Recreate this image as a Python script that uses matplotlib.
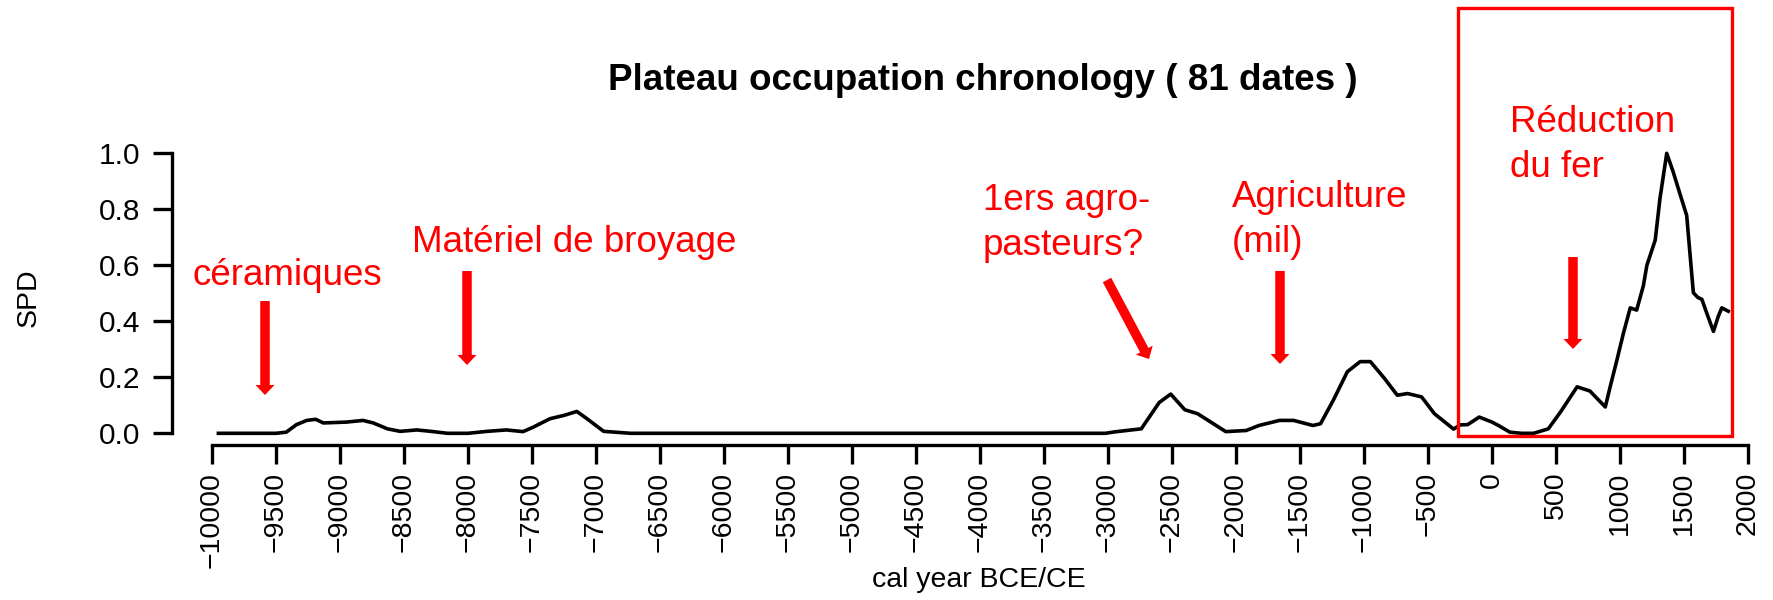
import numpy as np
import matplotlib
matplotlib.use("Agg")
import matplotlib.pyplot as plt
from matplotlib.patches import FancyArrow, Rectangle
from matplotlib.transforms import IdentityTransform

plt.rcParams['font.family'] = ['Liberation Sans', 'DejaVu Sans']

# ---- data ----
years = [-9950, -9500, -9420, -9340, -9260, -9190, -9130, -8950, -8820, -8740,
         -8630, -8530, -8400, -8290, -8160, -8000, -7850, -7700, -7570, -7490,
         -7360, -7250, -7150, -7070, -6940, -6730, -3020, -2950, -2740, -2600,
         -2510, -2400, -2300, -2080, -1920, -1820, -1660, -1550, -1400, -1340,
         -1240, -1130, -1030, -950, -840, -740, -660, -550, -450, -300,
         -250, -190, -100, 0, 50, 140, 230, 325, 440, 535,
         665, 765, 885, 923, 975, 1027, 1080, 1130, 1182, 1210,
         1275, 1312, 1365, 1415, 1465, 1521, 1573, 1606, 1640, 1677,
         1730, 1768, 1795, 1846]
spd = [0.0, 0.0, 0.004, 0.031, 0.046, 0.05, 0.037, 0.04, 0.046, 0.037,
       0.016, 0.007, 0.012, 0.007, 0.0, 0.0, 0.007, 0.012, 0.006, 0.022,
       0.052, 0.064, 0.078, 0.052, 0.007, 0.0, 0.0, 0.005, 0.016, 0.11,
       0.14, 0.084, 0.07, 0.006, 0.01, 0.028, 0.046, 0.046, 0.028, 0.034,
       0.118, 0.22, 0.256, 0.256, 0.196, 0.136, 0.142, 0.13, 0.07, 0.015,
       0.03, 0.031, 0.058, 0.04, 0.028, 0.004, 0.0, 0.0, 0.016, 0.076,
       0.166, 0.151, 0.094, 0.166, 0.26, 0.358, 0.448, 0.44, 0.526, 0.6,
       0.69, 0.838, 1.0, 0.934, 0.86, 0.778, 0.502, 0.486, 0.478, 0.43,
       0.364, 0.418, 0.448, 0.436]

x_ticks = list(range(-10000, 2001, 500))
x_tick_labels = [str(v).replace('-', '\u2212') for v in x_ticks]
y_ticks = [0.0, 0.2, 0.4, 0.6, 0.8, 1.0]
y_tick_labels = ['0.0', '0.2', '0.4', '0.6', '0.8', '1.0']

title = 'Plateau occupation chronology ( 81 dates )'
xlabel = 'cal year BCE/CE'
ylabel = 'SPD'

# annotations: (lines, left px, first baseline px)
annotations = [
    (['céramiques'], 193, 285),
    (['Matériel de broyage'], 412, 252),
    (['1ers agro-', 'pasteurs?'], 983, 210),
    (['Agriculture', '(mil)'], 1232, 207),
    (['Réduction', 'du fer'], 1510, 132),
]
# arrows: start (x, y) -> tip (x, y) in pixels from top-left
arrows = [
    ((265, 301), (265, 395)),
    ((467, 271), (467, 365)),
    ((1107, 280), (1149, 359)),
    ((1280, 271), (1280, 364)),
    ((1573, 257), (1573, 349)),
]

W, H = 1774, 600
fig = plt.figure(figsize=(W / 100, H / 100), dpi=100)

def fx(px):
    return px / W

def fy(py):
    return 1 - py / H

PX_PER_YEAR = 0.12805
left_px = 172
x_left = -10000 - (212 - left_px) / PX_PER_YEAR
x_right = 2000 + (W - 1748) / PX_PER_YEAR

ax = fig.add_axes([fx(left_px), fy(444.5), fx(W - left_px), (444.5 - 142.1) / H])
ax.plot(years, spd, color='black', lw=2.6, solid_joinstyle='round')
ax.set_xlim(x_left, x_right)
ax.set_ylim(-0.04, 1.04)
ax.patch.set_alpha(0)
for s in ['top', 'right']:
    ax.spines[s].set_visible(False)
ax.spines['left'].set_bounds(0, 1)
ax.spines['bottom'].set_bounds(-10000, 2000)
for s in ['left', 'bottom']:
    ax.spines[s].set_linewidth(2.4)
ax.set_xticks(x_ticks)
ax.set_xticklabels(x_tick_labels, rotation=90, va='top', ha='center')
ax.set_yticks(y_ticks)
ax.set_yticklabels(y_tick_labels)
ax.tick_params(axis='both', length=13.7, width=2.4, labelsize=20.5, direction='out')
ax.tick_params(axis='x', pad=6)
ax.tick_params(axis='y', pad=9, labelsize=21.5)

fig.text(fx(983), fy(90), title, ha='center', va='baseline',
         fontsize=26.5, fontweight='bold')
fig.text(fx(979), fy(580), xlabel, ha='center', va='center', fontsize=20.5)
fig.text(fx(29), fy(298), ylabel, ha='center', va='center', rotation=90, fontsize=20.5)

red = '#FF0000'
for lines, left, base in annotations:
    for i, line in enumerate(lines):
        fig.text(fx(left), fy(base + 45 * i), line, ha='left', va='baseline',
                 fontsize=26.5, color=red)

for (x0, y0), (x1, y1) in arrows:
    dx = x1 - x0
    dy = -(y1 - y0)
    arr = FancyArrow(x0, H - y0, dx, dy, width=9.5, head_width=19, head_length=10,
                     length_includes_head=True, color=red, lw=0,
                     transform=IdentityTransform())
    fig.add_artist(arr)

rect = Rectangle((1458.3, H - 436), 1731.7 - 1458.3, 436 - 8.3, fill=False,
                 edgecolor=red, lw=2.4, transform=IdentityTransform())
fig.add_artist(rect)

fig.savefig('out.png', dpi=100)
